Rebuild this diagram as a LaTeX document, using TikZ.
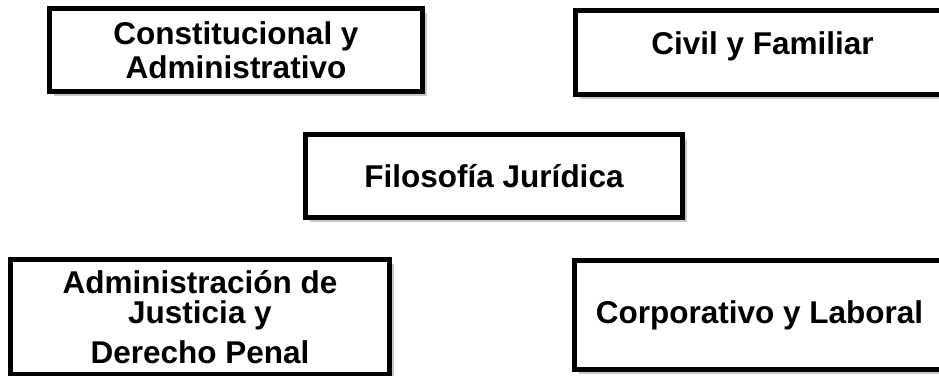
\documentclass[tikz,border=0pt]{standalone}
\usepackage{fontspec}
\setmainfont{Liberation Sans}
\usetikzlibrary{shadows}

\tikzset{
  caja/.style={draw, line width=5.5pt, fill=white, align=center,
    font=\bfseries\fontsize{31.5}{34}\selectfont,
    drop shadow={shadow xshift=4pt, shadow yshift=-4pt, opacity=0.35, fill=black!60}}
}

\begin{document}
\begin{tikzpicture}[x=1pt,y=-1pt]
  \clip (0,0) rectangle (939,375);
  \fill[white] (0,0) rectangle (939,375);
  \node[caja, minimum width=373, minimum height=83] (CA) at (236,50)
    {Constitucional y\\Administrativo};
  \node[caja, minimum width=374, minimum height=84] (CF) at (762.5,52.5)
    {\raisebox{6pt}[\height][\depth]{Civil y Familiar}};
  \node[caja, minimum width=377, minimum height=83] (FJ) at (494,176)
    {Filosof\'ia Jur\'idica};
  \node[caja, minimum width=379, minimum height=115] (AJ) at (200,317)
    {Administraci\'on de\\[-4pt]Justicia y\\[6pt]Derecho Penal};
  \node[caja, minimum width=370, minimum height=109] (CL) at (759.5,315)
    {Corporativo y Laboral};
\end{tikzpicture}
\end{document}
